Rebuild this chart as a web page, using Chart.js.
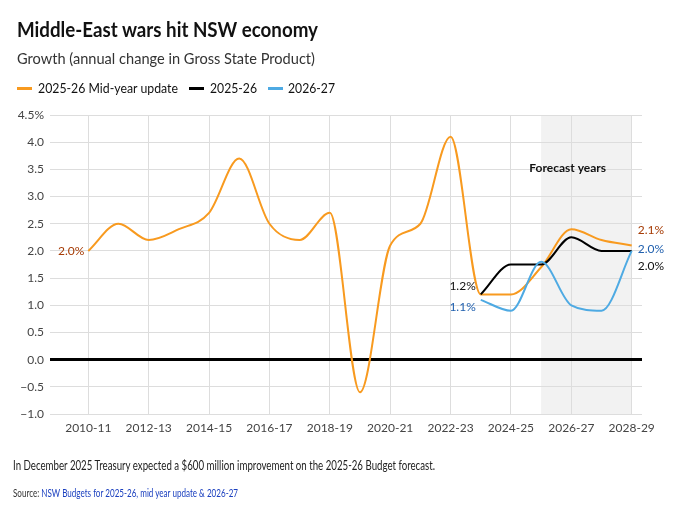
<!DOCTYPE html>
<html>
<head>
<meta charset="utf-8">
<script src="https://cdn.jsdelivr.net/npm/chart.js@4.4.1/dist/chart.umd.min.js"></script>
<style>
  html, body { margin: 0; padding: 0; background: #fff; }
  #wrap { position: relative; width: 680px; height: 505px; overflow: hidden; font-family: Lato, "Noto Sans", sans-serif; }
  #wrap canvas { position: absolute; left: 0; top: 0; }
  .t { position: absolute; white-space: nowrap; line-height: 1.2; transform-origin: 0 0; display: inline-block; }
  .sw { position: absolute; width: 15px; height: 3px; }
</style>
</head>
<body>
<div id="wrap">
  <canvas id="c" width="680" height="505"></canvas>
  <div class="t" data-w="301" style="left:17px; top:17px; font-size:20px; font-weight:700; color:#111;">Middle-East wars hit NSW economy</div>
  <div class="t" data-w="298" style="left:17px; top:47.5px; font-size:16px; color:#333;">Growth (annual change in Gross State Product)</div>

  <div class="sw" style="left:17px; top:87px; background:#f89a1f;"></div>
  <div class="t" data-w="140" style="left:38px; top:79.5px; font-size:14px; color:#111;">2025-26 Mid-year update</div>
  <div class="sw" style="left:189px; top:87px; background:#000;"></div>
  <div class="t" data-w="47" style="left:210px; top:79.5px; font-size:14px; color:#111;">2025-26</div>
  <div class="sw" style="left:268px; top:87px; background:#4eaae3;"></div>
  <div class="t" data-w="47" style="left:288px; top:79.5px; font-size:14px; color:#111;">2026-27</div>

  <div class="t" data-w="422" style="left:13px; top:458px; font-size:13px; color:#222;">In December 2025 Treasury expected a $600 million improvement on the 2025-26 Budget forecast.</div>
  <div class="t" data-w="225" style="left:13px; top:486.4px; font-size:11px; color:#333;">Source: <span style="color:#1a3fbf;">NSW Budgets for 2025-26, mid year update &amp; 2026-27</span></div>
</div>
<script>
// ---- data ----
const categories = ['2010-11','2011-12','2012-13','2013-14','2014-15','2015-16','2016-17','2017-18','2018-19','2019-20','2020-21','2021-22','2022-23','2023-24','2024-25','2025-26','2026-27','2027-28','2028-29'];
const midYearUpdate = [2.0, 2.5, 2.2, 2.4, 2.7, 3.7, 2.5, 2.2, 2.7, -0.6, 2.1, 2.5, 4.1, 1.2, 1.2, 1.7, 2.4, 2.2, 2.1];
const budget2526   = [null,null,null,null,null,null,null,null,null,null,null,null,null, 1.2, 1.75, 1.75, 2.25, 2.0, 2.0];
const budget2627   = [null,null,null,null,null,null,null,null,null,null,null,null,null, 1.1, 0.9, 1.8, 1.0, 0.9, 2.0];
const yTicks = [-1.0,-0.5,0.0,0.5,1.0,1.5,2.0,2.5,3.0,3.5,4.0,4.5];
const xTickIdx = [0,2,4,6,8,10,12,14,16,18];
const forecastStart = '2025-26';
const forecastEnd = '2028-29';
const forecastLabel = 'Forecast years';

const ORANGE = '#f89a1f', BLACK = '#000000', BLUE = '#4eaae3';

function toXY(arr){ const out=[]; arr.forEach((v,i)=>{ if(v!==null) out.push({x:i,y:v}); }); return out; }

// value labels: [dataset index, category index, dx, dy, align, color]
const valueLabels = [
  [0, 0, -4, 0, 'right', '#a63c06'],
  [1, 13, -5, -8, 'right', '#111111'],
  [2, 13, -5, 7, 'right', '#1f5fae'],
  [0, 18, 6, -15, 'left', '#a63c06'],
  [2, 18, 6, -2, 'left', '#1f5fae'],
  [1, 18, 6, 15, 'left', '#111111']
];
const seriesArrays = [midYearUpdate, budget2526, budget2627];

const shadePlugin = {
  id: 'shade',
  beforeDraw(chart){
    const {ctx, chartArea:a, scales:{x}} = chart;
    const x0 = x.getPixelForValue(categories.indexOf(forecastStart));
    const x1 = x.getPixelForValue(categories.indexOf(forecastEnd));
    ctx.save(); ctx.fillStyle = '#f2f2f2';
    ctx.fillRect(x0, a.top, x1-x0, a.bottom-a.top); ctx.restore();
  },
  afterDatasetsDraw(chart){
    const {ctx, scales:{x,y}} = chart;
    ctx.save();
    ctx.font = '12px Lato, "Noto Sans", sans-serif';
    ctx.textBaseline = 'middle';
    valueLabels.forEach(([d,i,dx,dy,al,col])=>{
      const v = seriesArrays[d][i];
      ctx.fillStyle = col; ctx.textAlign = al;
      ctx.fillText(v.toFixed(1)+'%', x.getPixelForValue(i)+dx, y.getPixelForValue(v)+dy);
    });
    ctx.font = 'bold 12px Lato, "Noto Sans", sans-serif';
    ctx.fillStyle = '#111'; ctx.textAlign = 'center';
    ctx.fillText(forecastLabel, x.getPixelForValue(15.88), y.getPixelForValue(3.53));
    ctx.restore();
  }
};

const fnt = {family: 'Lato, "Noto Sans", sans-serif', size: 12};

new Chart(document.getElementById('c'), {
  type: 'line',
  data: {
    datasets: [
      {label:'2025-26 Mid-year update', data: toXY(midYearUpdate), borderColor: ORANGE, backgroundColor: ORANGE, borderWidth: 2, pointRadius: 0, cubicInterpolationMode: 'monotone', order: 3},
      {label:'2025-26', data: toXY(budget2526), borderColor: BLACK, backgroundColor: BLACK, borderWidth: 2, pointRadius: 0, cubicInterpolationMode: 'monotone', order: 2},
      {label:'2026-27', data: toXY(budget2627), borderColor: BLUE, backgroundColor: BLUE, borderWidth: 2, pointRadius: 0, cubicInterpolationMode: 'monotone', order: 1}
    ]
  },
  options: {
    responsive: false, animation: false, devicePixelRatio: 1,
    layout: { padding: { left: 0, top: 115, right: 38, bottom: 61 } },
    plugins: { legend: {display:false}, tooltip: {enabled:false} },
    scales: {
      x: {
        type: 'linear', min: -1.269, max: 18.341,
        afterFit(s){ s.height = 30; },
        afterBuildTicks(s){ s.ticks = xTickIdx.map(v=>({value:v})); },
        ticks: { autoSkip:false, maxRotation:0, padding: 7, color:'#444', font: fnt, callback: v => categories[v] },
        grid: { color:'#dddddd', lineWidth:1, drawTicks:false },
        border: { display:false }
      },
      y: {
        min: -1, max: 4.5,
        afterFit(s){ s.width = 50; },
        afterBuildTicks(s){ s.ticks = yTicks.map(v=>({value:v})); },
        ticks: { padding: 6, color:'#444', font: fnt,
          callback: v => (v===4.5 ? '4.5%' : (v<0 ? '\u2212'+Math.abs(v).toFixed(1) : v.toFixed(1))) },
        grid: { drawTicks:false,
          color: c => c.tick && c.tick.value===0 ? '#000' : '#dddddd',
          lineWidth: c => c.tick && c.tick.value===0 ? 3 : 1 },
        border: { display:false }
      }
    }
  },
  plugins: [shadePlugin]
});

function fitAll(){
  document.querySelectorAll('.t[data-w]').forEach(el=>{
    el.style.transform = 'none';
    const w = el.getBoundingClientRect().width;
    const t = +el.dataset.w;
    if (w>0) el.style.transform = 'scaleX(' + (t/w) + ')';
  });
}
fitAll();
if (document.fonts && document.fonts.ready) document.fonts.ready.then(fitAll);
</script>
</body>
</html>
